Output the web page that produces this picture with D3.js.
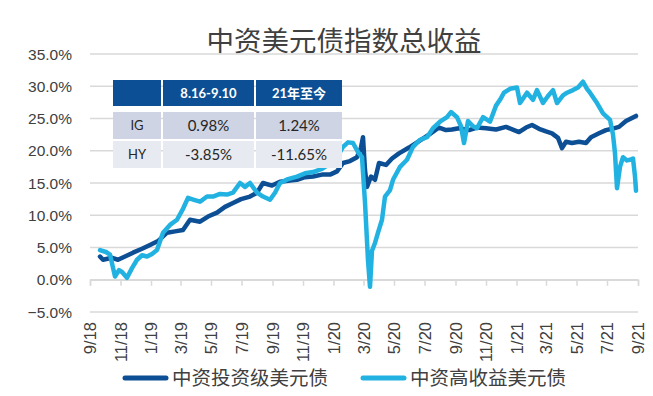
<!DOCTYPE html>
<html><head><meta charset="utf-8">
<script src="https://cdn.jsdelivr.net/npm/d3@7"></script>
<style>
html,body{margin:0;padding:0;background:#fff;}
svg{display:block;}
</style></head>
<body>
<script>
const title = "中资美元债指数总收益";
const seriesNames = ["中资投资级美元债", "中资高收益美元债"];
const yTicks = [-5, 0, 5, 10, 15, 20, 25, 30, 35];
const xTickLabels = ["9/18","11/18","1/19","3/19","5/19","7/19","9/19","11/19","1/20","3/20","5/20","7/20","9/20","11/20","1/21","3/21","5/21","7/21","9/21"];
const tableHeader = ["", "8.16-9.10", "21年至今"];
const tableRows = [["IG", "0.98%", "1.24%"], ["HY", "-3.85%", "-11.65%"]];

const igDates = ["2018-09-21","2018-09-27","2018-10-15","2018-10-27","2018-11-10","2018-11-26","2018-12-14","2018-12-30","2019-01-15","2019-02-02","2019-02-18","2019-03-06","2019-03-20","2019-04-09","2019-04-25","2019-05-13","2019-05-29","2019-06-14","2019-06-30","2019-07-18","2019-08-01","2019-08-13","2019-08-31","2019-09-16","2019-10-06","2019-10-20","2019-11-05","2019-11-21","2019-12-09","2019-12-25","2020-01-08","2020-01-20","2020-02-03","2020-02-17","2020-02-25","2020-02-29","2020-03-04","2020-03-08","2020-03-16","2020-03-24","2020-04-01","2020-04-15","2020-04-27","2020-05-11","2020-05-31","2020-06-20","2020-07-10","2020-07-30","2020-08-13","2020-08-25","2020-09-08","2020-09-28","2020-10-14","2020-11-01","2020-11-21","2020-12-11","2020-12-27","2021-01-06","2021-01-20","2021-02-01","2021-02-15","2021-03-01","2021-03-13","2021-03-25","2021-04-02","2021-04-10","2021-04-22","2021-05-06","2021-05-20","2021-05-30","2021-06-15","2021-06-29","2021-07-11","2021-07-25","2021-08-08","2021-08-18","2021-08-28"];
const igValues = [3.6,3.1,3.4,3.1,3.6,4.2,4.8,5.4,6.0,7.3,7.5,7.7,9.3,9.0,9.8,10.4,11.3,11.9,12.5,12.9,13.5,15.0,14.6,15.2,15.4,15.5,15.9,16.0,16.3,16.3,16.8,18.1,18.4,19.0,20.5,22.1,17.0,14.4,16.0,15.5,18.1,17.8,18.8,19.6,20.5,21.5,22.5,23.6,23.2,23.3,23.5,23.2,23.6,23.5,23.3,23.7,23.2,22.9,23.6,24.0,23.4,23.0,22.7,22.0,20.4,21.4,21.2,21.4,21.2,22.1,22.7,23.2,23.4,23.7,24.6,25.0,25.4];

const hyDates = ["2018-09-21","2018-10-03","2018-10-11","2018-10-21","2018-10-29","2018-11-04","2018-11-14","2018-11-24","2018-12-04","2018-12-14","2018-12-24","2019-01-03","2019-01-13","2019-01-25","2019-02-08","2019-02-22","2019-03-06","2019-03-16","2019-03-28","2019-04-09","2019-04-23","2019-05-05","2019-05-19","2019-06-02","2019-06-14","2019-06-28","2019-07-08","2019-07-18","2019-08-01","2019-08-13","2019-08-27","2019-09-06","2019-09-16","2019-10-02","2019-10-20","2019-11-05","2019-11-21","2019-12-09","2019-12-25","2020-01-08","2020-01-20","2020-01-30","2020-02-09","2020-02-19","2020-02-27","2020-03-04","2020-03-10","2020-03-14","2020-03-18","2020-03-24","2020-03-30","2020-04-07","2020-04-13","2020-04-23","2020-04-29","2020-05-13","2020-05-27","2020-06-08","2020-06-22","2020-07-06","2020-07-18","2020-08-01","2020-08-15","2020-08-23","2020-09-04","2020-09-12","2020-09-18","2020-09-26","2020-10-06","2020-10-14","2020-10-26","2020-11-09","2020-11-21","2020-11-29","2020-12-07","2020-12-19","2021-01-02","2021-01-08","2021-01-22","2021-02-03","2021-02-11","2021-02-23","2021-03-05","2021-03-15","2021-03-23","2021-04-04","2021-04-12","2021-04-24","2021-05-04","2021-05-14","2021-05-22","2021-05-28","2021-06-11","2021-06-23","2021-07-07","2021-07-13","2021-07-17","2021-07-21","2021-07-27","2021-08-02","2021-08-10","2021-08-16","2021-08-22","2021-08-26","2021-08-28"];
const hyValues = [4.6,4.3,3.9,0.5,1.5,1.2,0.3,1.8,3.1,3.8,3.6,4.0,4.6,7.3,8.5,9.3,11.0,12.7,12.4,12.1,12.9,12.9,13.3,13.2,13.5,15.0,14.4,15.0,13.5,12.9,12.4,13.5,15.0,15.6,16.0,16.5,16.7,17.2,18.0,19.0,20.6,21.3,21.2,19.8,19.0,12.0,3.0,-1.1,4.5,5.7,7.3,9.3,12.9,13.9,15.5,17.5,18.6,20.6,21.7,22.1,23.5,24.5,25.2,26.0,25.2,23.8,21.2,24.6,23.8,23.5,25.2,24.5,27.0,27.9,29.0,29.6,29.8,27.4,29.0,27.9,29.4,27.4,28.5,29.4,27.4,28.6,29.0,29.4,29.8,30.7,29.6,29.0,27.4,25.8,24.8,22.5,19.6,14.2,17.5,19.0,18.5,18.6,18.8,16.0,13.8];

const colors = ["#0D4F94", "#22B2E2"];
const W = 653, H = 396;
const parse = d3.timeParse("%Y-%m-%d");

const svg = d3.select("body").append("svg").attr("width", W).attr("height", H);

const x = d3.scaleTime().domain([parse("2018-09-01"), parse("2021-09-01")]).range([90, 638]);
const y = d3.scaleLinear().domain([-5, 35]).range([312, 54]);

// title
svg.append("text").attr("x", 344).attr("y", 51).attr("text-anchor", "middle")
  .style("font-family", "'Noto Sans CJK SC', sans-serif").style("font-size", "27.5px")
  .attr("fill", "#404040").text(title);

// grid
svg.append("g").selectAll("line").data(yTicks).join("line")
  .attr("x1", 90).attr("x2", 638).attr("y1", d => y(d)).attr("y2", d => y(d))
  .attr("stroke", "#d9d9d9").attr("stroke-width", 1.5);

// y labels
svg.append("g").selectAll("text").data(yTicks).join("text")
  .attr("x", 72).attr("y", d => y(d)).attr("dy", "0.36em").attr("text-anchor", "end")
  .style("font-family", "'Liberation Sans', Arial, sans-serif").style("font-size", "15.5px")
  .attr("fill", "#404040").text(d => d3.format(".1f")(d) + "%");

// x axis at 0 with ticks
const tickDates = xTickLabels.map(s => { const [m, yy] = s.split("/"); return new Date(2000 + +yy, +m - 1, 1); });
const xAxis = d3.axisBottom(x).tickValues(tickDates).tickSize(6).tickFormat("");
const gx = svg.append("g").attr("transform", `translate(0,${y(0)})`).call(xAxis);
gx.select(".domain").attr("stroke", "#d9d9d9").attr("stroke-width", 1.5);
gx.selectAll(".tick line").attr("stroke", "#d9d9d9").attr("stroke-width", 1.5);

// x labels (rotated), at bottom
svg.append("g").selectAll("text").data(tickDates).join("text")
  .attr("transform", (d) => `translate(${x(d) + 6},322) rotate(-90)`)
  .attr("text-anchor", "end")
  .style("font-family", "'Liberation Sans', Arial, sans-serif").style("font-size", "16.5px")
  .attr("fill", "#404040").text((d, i) => xTickLabels[i]);

// lines
const line = d3.line().x(d => x(d[0])).y(d => y(d[1])).curve(d3.curveLinear);
const igData = igDates.map((d, i) => [parse(d), igValues[i]]);
const hyData = hyDates.map((d, i) => [parse(d), hyValues[i]]);
[igData, hyData].forEach((data, i) => {
  svg.append("path").datum(data).attr("d", line).attr("fill", "none")
    .attr("stroke", colors[i]).attr("stroke-width", 4.5).attr("stroke-linejoin", "round").attr("stroke-linecap", "round");
});

// table
const colX = [113, 163, 256], colW = [48, 91, 86];
const rowY = [80, 112, 141], rowH = [26, 27, 27];
const rowFill = ["#0D4F94", "#CED4E4", "#E8EAF1"];
const tbl = svg.append("g");
const allRows = [tableHeader].concat(tableRows);
allRows.forEach((row, r) => {
  row.forEach((cell, c) => {
    tbl.append("rect").attr("x", colX[c]).attr("y", rowY[r]).attr("width", colW[c]).attr("height", rowH[r]).attr("fill", rowFill[r]);
    tbl.append("text").attr("x", colX[c] + colW[c] / 2).attr("y", rowY[r] + rowH[r] / 2).attr("dy", "0.36em")
      .attr("text-anchor", "middle")
      .style("font-family", r === 0 ? "Lato, 'Noto Sans CJK SC', sans-serif" : "Lato, sans-serif")
      .style("font-size", r === 0 ? "13px" : (c === 0 ? "13px" : "15px"))
      .style("font-weight", r === 0 ? "bold" : "normal")
      .attr("fill", r === 0 ? "#ffffff" : "#262626").text(cell);
  });
});

// legend
const legend = svg.append("g");
const legX = [125, 363];
seriesNames.forEach((name, i) => {
  legend.append("line").attr("x1", legX[i]).attr("x2", legX[i] + 41).attr("y1", 378).attr("y2", 378)
    .attr("stroke", colors[i]).attr("stroke-width", 5).attr("stroke-linecap", "round");
  legend.append("text").attr("x", legX[i] + 47).attr("y", 378).attr("dy", "0.36em")
    .style("font-family", "'Noto Sans CJK SC', sans-serif").style("font-size", "19.5px")
    .attr("fill", "#404040").text(name);
});
</script>
</body></html>
